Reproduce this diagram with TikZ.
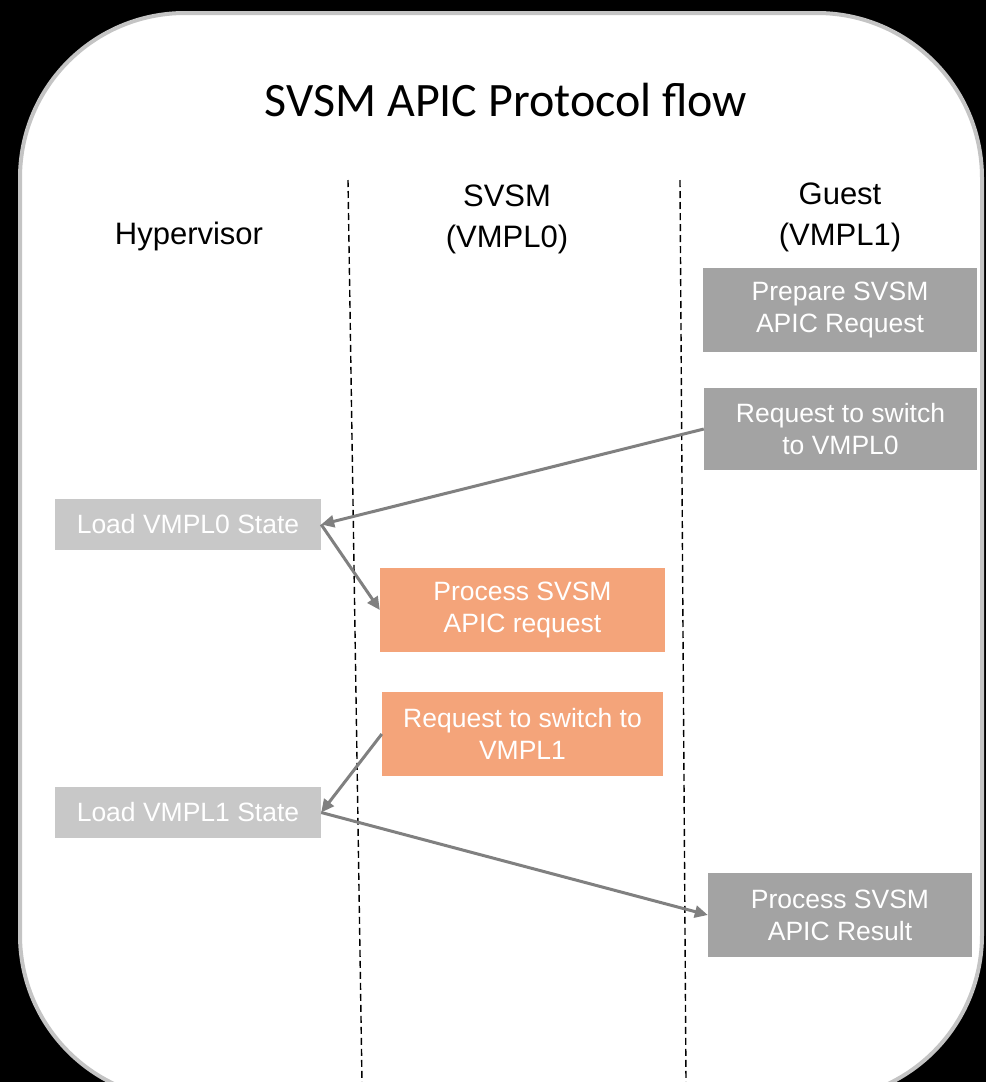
\documentclass[tikz,border=0pt]{standalone}
\usepackage{fontspec}
\setmainfont{Liberation Sans}
\newfontfamily\titlefont{Carlito}
\usetikzlibrary{arrows.meta}
\definecolor{boxdark}{HTML}{A3A3A3}
\definecolor{boxlight}{HTML}{C8C8C8}
\definecolor{boxorange}{HTML}{F4A47A}
\definecolor{flowgray}{HTML}{808080}
\definecolor{rimgray}{HTML}{C4C4C4}

\begin{document}
\begin{tikzpicture}[x=1pt,y=-1pt,>={Triangle[length=13pt,width=12pt]}]
  \pgfmathsetmacro{\W}{986}\pgfmathsetmacro{\H}{1082}
  \pgfmathsetmacro{\rad}{165}
  \tikzset{
    step box/.style={rectangle,inner sep=0pt,align=center,text=white,
                     font=\fontsize{26.5}{32}\selectfont},
    flow/.style={->,draw=flowgray,line width=3pt},
    lifeline/.style={black,line width=1.4pt,dash pattern=on 7pt off 4pt},
    lane head/.style={align=center,font=\fontsize{31}{41}\selectfont}
  }
  \useasboundingbox (0,0) rectangle (\W,\H);
  \fill[black] (0,0) rectangle (\W,\H);

  % ---- white card ---------------------------------------------------------
  \filldraw[fill=white,draw=rimgray,line width=4pt,rounded corners=\rad pt]
        (20,13) rectangle (982,1100);

  % ---- title and lane heads -----------------------------------------------
  \node[font=\titlefont\fontsize{48}{56}\selectfont] (title) at (506,100)
        {SVSM APIC Protocol flow};
  \node[lane head] (hv)    at (189,236) {Hypervisor};
  \node[lane head] (svsm)  at (507,219) {SVSM\\(VMPL0)};
  \node[lane head] (guest) at (840,217) {Guest\\(VMPL1)};

  % ---- lifelines (a little slanted, as drawn) -----------------------------
  \draw[lifeline] (348,180) -- (362,1082);
  \draw[lifeline] (680,180) -- (686,1082);

  % ---- steps --------------------------------------------------------------
  \node[step box,fill=boxdark,minimum width=274pt,minimum height=84pt]
        (prep) at (840,310) {Prepare SVSM\\APIC Request};
  \node[step box,fill=boxdark,minimum width=273pt,minimum height=82pt]
        (toz) at (840.5,429) {Request to switch\\to VMPL0};
  \node[step box,fill=boxlight,minimum width=266pt,minimum height=51pt]
        (loadz) at (188,524.5) {Load VMPL0 State};
  \node[step box,fill=boxorange,minimum width=285pt,minimum height=84pt]
        (procreq) at (522.5,610) {Process SVSM\\APIC request};
  \node[step box,fill=boxorange,minimum width=281pt,minimum height=84pt]
        (too) at (522.5,734) {Request to switch to\\VMPL1};
  \node[step box,fill=boxlight,minimum width=266pt,minimum height=51pt]
        (loado) at (188,812.5) {Load VMPL1 State};
  \node[step box,fill=boxdark,minimum width=264pt,minimum height=84pt]
        (procres) at (840,915) {Process SVSM\\APIC Result};

  % ---- hand-offs ----------------------------------------------------------
  \draw[flow] (toz.west)   -- (loadz.east);
  \draw[flow] (loadz.east) -- (procreq.west);
  \draw[flow] (too.west)   -- (loado.east);
  \draw[flow] (loado.east) -- (procres.west);
\end{tikzpicture}
\end{document}
